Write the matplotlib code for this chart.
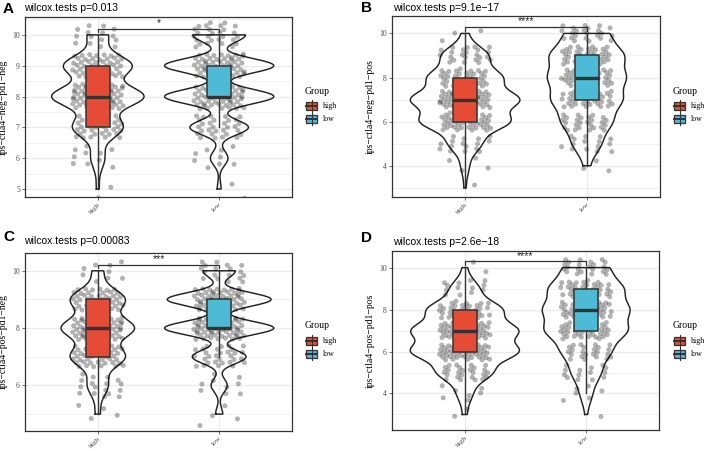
import numpy as np
import matplotlib
matplotlib.use("Agg")
import matplotlib.pyplot as plt
from matplotlib.patches import Rectangle

# 数据：每个IPS分数在 high / low 两组中的样本数（从图中估计）
scores_A = [5, 6, 7, 8, 9, 10]
high_A = [2, 10, 36, 66, 49, 15]
low_A = [2, 9, 30, 56, 56, 27]

scores_B = [3, 4, 5, 6, 7, 8, 9, 10]
high_B = [1, 4, 16, 44, 53, 36, 23, 3]
low_B = [0, 3, 15, 26, 36, 39, 38, 23]

scores_C = [5, 6, 7, 8, 9, 10]
high_C = [4, 17, 45, 60, 45, 9]
low_C = [4, 9, 30, 61, 58, 18]

scores_D = [3, 4, 5, 6, 7, 8, 9, 10]
high_D = [2, 7, 25, 49, 48, 34, 13, 2]
low_D = [1, 6, 14, 23, 39, 40, 35, 22]

groups = ["high", "low"]
panel_letters = ["A", "B", "C", "D"]
p_labels = ["wilcox.tests p=0.013", "wilcox.tests p=9.1e\u221217",
            "wilcox.tests p=0.00083", "wilcox.tests p=2.6e\u221218"]
sig_labels = ["*", "****", "***", "****"]
y_labels = ["ips\u2212ctla4\u2212neg\u2212pd1\u2212neg", "ips\u2212ctla4\u2212neg\u2212pd1\u2212pos",
            "ips\u2212ctla4\u2212pos\u2212pd1\u2212neg", "ips\u2212ctla4\u2212pos\u2212pd1\u2212pos"]
y_ticks = [[5, 6, 7, 8, 9, 10], [4, 6, 8, 10], [6, 8, 10], [4, 6, 8, 10]]

fill_colors = {"high": "#E64B35", "low": "#4DBBD5"}
W, H = 708, 451
SERIF = "Liberation Serif"
SANS = "Liberation Sans"

# 每个面板在图中的像素位置（左, 上, 右, 下）和 y 轴范围
panel_rects = [(25, 17, 292, 197), (392, 16, 660, 197), (25, 253, 292, 431), (392, 251, 659, 430)]
panel_ylims = [(4.74, 10.58), (2.58, 10.79), (4.41, 10.62), (2.26, 10.79)]
legend_offset = [(0, 0), (368, 0), (0, 235), (368, 235)]

panel_data = [
    (scores_A, high_A, low_A),
    (scores_B, high_B, low_B),
    (scores_C, high_C, low_C),
    (scores_D, high_D, low_D),
]


def expand(scores, counts):
    return np.repeat(np.array(scores, dtype=float), counts)


def bw_nrd0(x):
    hi = np.std(x, ddof=1)
    q25, q75 = np.percentile(x, [25, 75])
    lo = min(hi, (q75 - q25) / 1.34)
    return 0.9 * lo * len(x) ** -0.2


def density(x, grid):
    bw = bw_nrd0(x)
    z = (grid[:, None] - x[None, :]) / bw
    return np.exp(-0.5 * z ** 2).sum(axis=1) / (len(x) * bw * np.sqrt(2 * np.pi))


def jitter_offsets(n, shift):
    # 低差异序列做抖动（只是位置偏移，不是数据）
    i = np.arange(1, n + 1) + shift
    u = (i * 0.7548776662) % 1.0
    v = (i * 0.5698402910) % 1.0
    return (u - 0.5) * 2 * 0.21, (v - 0.5) * 2 * 0.4


fig = plt.figure(figsize=(W / 100, H / 100), dpi=100, facecolor="white")


def px_rect(l, t, r, b):
    return [l / W, 1 - b / H, (r - l) / W, (b - t) / H]


for k in range(4):
    scores, hi_counts, lo_counts = panel_data[k]
    ax = fig.add_axes(px_rect(*panel_rects[k]))
    ax.set_xlim(0.4, 2.6)
    ax.set_ylim(*panel_ylims[k])

    values = [expand(scores, hi_counts), expand(scores, lo_counts)]

    # 小提琴图（scale = "area"，trim = TRUE）
    grids = [np.linspace(v.min(), v.max(), 512) for v in values]
    dens = [density(v, g) for v, g in zip(values, grids)]
    dmax = max(d.max() for d in dens)
    for j, (g, d) in enumerate(zip(grids, dens)):
        hw = 0.45 * d / dmax
        xs = np.concatenate([j + 1 - hw, (j + 1 + hw)[::-1], [j + 1 - hw[0]]])
        ys = np.concatenate([g, g[::-1], [g[0]]])
        ax.plot(xs, ys, color="#222222", lw=1.05, zorder=2, solid_joinstyle="round")

    # 抖动散点
    for j, v in enumerate(values):
        dx, dy = jitter_offsets(len(v), 37 * k + 101 * j)
        ax.scatter(j + 1 + dx, v + dy, s=13, color="black", alpha=0.3,
                   edgecolors="none", zorder=3)

    # 箱线图
    for j, v in enumerate(values):
        q1, med, q3 = np.percentile(v, [25, 50, 75])
        iqr = q3 - q1
        lo_w = v[v >= q1 - 1.5 * iqr].min()
        hi_w = v[v <= q3 + 1.5 * iqr].max()
        c = j + 1
        ax.plot([c, c], [lo_w, q1], color="#333333", lw=1.0, zorder=4)
        ax.plot([c, c], [q3, hi_w], color="#333333", lw=1.0, zorder=4)
        ax.add_patch(Rectangle((c - 0.1, q1), 0.2, q3 - q1, facecolor=fill_colors[groups[j]],
                               edgecolor="#333333", lw=1.1, zorder=4))
        ax.plot([c - 0.1, c + 0.1], [med, med], color="#333333", lw=2.4, zorder=5,
                solid_capstyle="butt")

    # 显著性括号
    ylo, yhi = panel_ylims[k]
    top = max(v.max() for v in values)
    yb = top + 0.035 * (yhi - ylo)
    tip = 0.02 * (yhi - ylo)
    ax.plot([1, 1, 2, 2], [yb - tip, yb, yb, yb - tip], color="#333333", lw=0.9, zorder=5)
    ax.text(1.5, yb + 0.004 * (yhi - ylo), sig_labels[k], ha="center", va="bottom",
            fontsize=7.5, family=SANS, color="#222222")

    # 网格和坐标轴样式 (theme_bw)
    yt = y_ticks[k]
    step = yt[1] - yt[0]
    ax.set_yticks(yt)
    ax.set_yticklabels([str(t) for t in yt])
    minor = [t + 0.5 * step for t in yt] + [yt[0] - 0.5 * step]
    ax.set_yticks([m for m in minor if ylo < m < yhi], minor=True)
    ax.set_xticks([1, 2])
    ax.set_xticklabels(groups, rotation=45, ha="right", va="top", rotation_mode="anchor")
    ax.grid(True, which="major", color="#EBEBEB", lw=1.0)
    ax.grid(True, which="minor", axis="y", color="#EBEBEB", lw=0.5)
    ax.set_axisbelow(True)
    ax.tick_params(axis="both", which="major", length=2.2, width=0.5, color="#333333",
                   labelsize=5.5, labelcolor="#4D4D4D", pad=1.5)
    ax.tick_params(axis="x", labelsize=5.4, pad=1)
    ax.tick_params(axis="y", which="minor", length=0)
    for lab in ax.get_xticklabels() + ax.get_yticklabels():
        lab.set_family(SERIF)
    for s in ax.spines.values():
        s.set_color("#333333")
        s.set_linewidth(0.9)
    ax.set_ylabel(y_labels[k], family=SERIF, fontsize=7, labelpad=3, color="black")

# 覆盖层：面板字母、标题和图例（像素坐标）
ov = fig.add_axes([0, 0, 1, 1], zorder=10)
ov.set_xlim(0, W)
ov.set_ylim(H, 0)
ov.axis("off")
ov.patch.set_visible(False)

letter_pos = [(3, 9), (361, 8), (3, 237), (361, 238)]
title_pos = [(24, 8), (393, 8), (24, 241), (393, 242)]
for k in range(4):
    lx, ly = letter_pos[k]
    ov.text(lx, ly, panel_letters[k], fontsize=11, fontweight="bold", family=SANS,
            ha="left", va="center")
    tx, ty = title_pos[k]
    ov.text(tx, ty, p_labels[k], fontsize=7.5, family=SANS, ha="left", va="center")

    ox, oy = legend_offset[k]
    ov.text(305 + ox, 91 + oy, "Group", fontsize=7, family=SERIF, ha="left", va="center")
    for j, g in enumerate(groups):
        cy = 106 + 13 * j + oy
        cx = 311.5 + ox
        ov.plot([cx, cx], [cy - 6, cy + 6], color="#333333", lw=0.8)
        ov.add_patch(Rectangle((cx - 5.5, cy - 3.8), 11, 7.6, facecolor=fill_colors[g],
                               edgecolor="#333333", lw=0.9))
        ov.plot([cx - 5.5, cx + 5.5], [cy, cy], color="#333333", lw=1.4)
        ov.text(cx + 11, cy, g, fontsize=5.7, family=SERIF, ha="left", va="center")

fig.savefig("out.png", dpi=100, facecolor="white")
